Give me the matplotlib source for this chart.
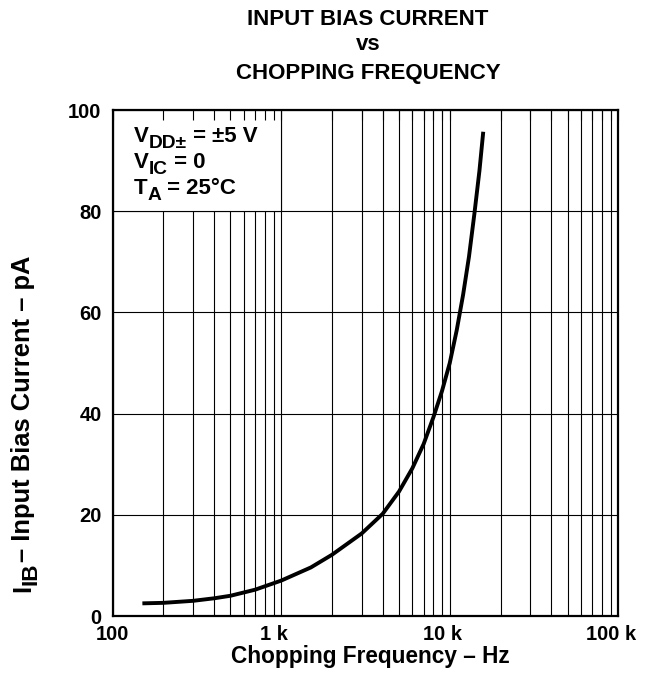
import matplotlib
matplotlib.use("Agg")
import matplotlib.pyplot as plt
from matplotlib.patches import Rectangle
from matplotlib.ticker import FixedLocator, LogLocator, NullFormatter
from matplotlib.transforms import ScaledTranslation

plt.rcParams['font.family'] = ['Liberation Sans', 'DejaVu Sans']
plt.rcParams['font.weight'] = 'bold'

# Data
freq_hz = [150, 200, 300, 400, 500, 700, 1000, 1500, 2000, 3000, 4000, 5000,
           6000, 7000, 8000, 9000, 10000, 11000, 12000, 13000, 14000, 15000, 15800]
ib_pa = [2.5, 2.6, 3.0, 3.5, 4.0, 5.2, 7.0, 9.6, 12.1, 16.3, 20.2, 24.6,
         29.2, 34.0, 39.3, 44.5, 50.0, 56.5, 63.5, 71.0, 79.5, 88.0, 95.7]

x_ticks = [100, 1000, 10000, 100000]
x_tick_labels = ['100', '1 k', '10 k', '100 k']
y_ticks = [0, 20, 40, 60, 80, 100]
# (text, is_subscript) segments
legend_lines = [
    [('V', False), ('DD±', True), (' = ±5 V', False)],
    [('V', False), ('IC', True), (' = 0', False)],
    [('T', False), ('A', True), (' = 25°C', False)],
]
ylabel_segments = [('I', False), ('IB', True), ('– Input Bias Current – pA', False)]
title_lines = ['INPUT BIAS CURRENT', 'vs', 'CHOPPING FREQUENCY']

W, H = 662, 679
fig = plt.figure(figsize=(W / 100, H / 100), dpi=100)
left, right, top, bottom = 112.7, 618.3, 110, 616
pos = [left / W, (H - bottom) / H, (right - left) / W, (bottom - top) / H]
ax = fig.add_axes(pos)

ax.set_xscale('log')
ax.set_xlim(100, 100000)
ax.set_ylim(0, 100)
ax.set_axisbelow(True)

ax.xaxis.set_major_locator(FixedLocator(x_ticks))
ax.set_xticklabels(x_tick_labels)
ax.xaxis.set_minor_locator(LogLocator(base=10, subs=range(2, 10)))
ax.xaxis.set_minor_formatter(NullFormatter())
ax.set_yticks(y_ticks)
ax.grid(True, which='both', axis='x', color='black', linewidth=0.8)
ax.grid(True, which='major', axis='y', color='black', linewidth=0.8)
ax.tick_params(axis='both', which='both', length=0, labelsize=14.5)
ax.tick_params(axis='x', pad=6.5)
ax.tick_params(axis='y', pad=8)
for lab in ax.get_xticklabels() + ax.get_yticklabels():
    lab.set_fontweight('bold')
for lab in ax.get_xticklabels():
    if 'k' in lab.get_text():
        lab.set_transform(lab.get_transform() + ScaledTranslation(-7 / 100, 0, fig.dpi_scale_trans))
for s in ax.spines.values():
    s.set_linewidth(1.6)

ax.plot(freq_hz, ib_pa, color='black', linewidth=2.8, zorder=3,
        solid_capstyle='butt', solid_joinstyle='round')

# annotation box
rect = Rectangle((100, 80), 900, 20, facecolor='white', edgecolor='black',
                 linewidth=0.8, zorder=1)
ax.add_patch(rect)


def chain(segments, x0, y0, size, sub_scale, sub_shift, rotation=0):
    prev = None
    last_sub = False
    for text, is_sub in segments:
        fs = size * sub_scale if is_sub else size
        if prev is None:
            if rotation == 0:
                prev = ax.annotate(text, xy=(x0, H - y0), xycoords='figure pixels',
                                   ha='left', va='bottom', fontsize=fs, fontweight='bold',
                                   annotation_clip=False, zorder=6)
            else:
                prev = ax.annotate(text, xy=(x0, H - y0), xycoords='figure pixels',
                                   ha='right', va='bottom', fontsize=fs, fontweight='bold',
                                   rotation=90, annotation_clip=False, zorder=6)
            last_sub = is_sub
            continue
        shift = 0
        if is_sub and not last_sub:
            shift = sub_shift
        elif last_sub and not is_sub:
            shift = -sub_shift
        if rotation == 0:
            prev = ax.annotate(text, xy=(1, 0), xycoords=prev, xytext=(0, -shift),
                               textcoords='offset pixels', ha='left', va='bottom',
                               fontsize=fs, fontweight='bold', annotation_clip=False, zorder=6)
        else:
            prev = ax.annotate(text, xy=(1, 1), xycoords=prev, xytext=(shift, 0),
                               textcoords='offset pixels', ha='right', va='bottom',
                               fontsize=fs, fontweight='bold', rotation=90,
                               annotation_clip=False, zorder=6)
        last_sub = is_sub


for i, segs in enumerate(legend_lines):
    chain(segs, 134, 146.5 + i * 26.0, 16, 0.86, 6)

chain(ylabel_segments, 35, 592, 18.4, 0.88, 6, rotation=90)

ax.set_xlabel('Chopping Frequency – Hz', fontsize=16.3, fontweight='bold')
ax.xaxis.set_label_coords((370 - left) / (right - left), -(663 - bottom) / (bottom - top))
ax.xaxis.label.set_va('baseline')

# inward top ticks (visible inside annotation box)
ax2 = fig.add_axes(pos, sharex=ax)
ax2.patch.set_visible(False)
for s in ax2.spines.values():
    s.set_visible(False)
ax2.set_yticks([])
ax2.tick_params(axis='x', which='both', top=True, bottom=False, labeltop=False,
                labelbottom=False, direction='in', length=7, width=0.8)

for txt, yb in zip(title_lines, [25, 50, 79]):
    fig.text(368 / W, 1 - yb / H, txt, ha='center', va='baseline',
             fontsize=16, fontweight='bold')

fig.savefig('out.png', dpi=100)
